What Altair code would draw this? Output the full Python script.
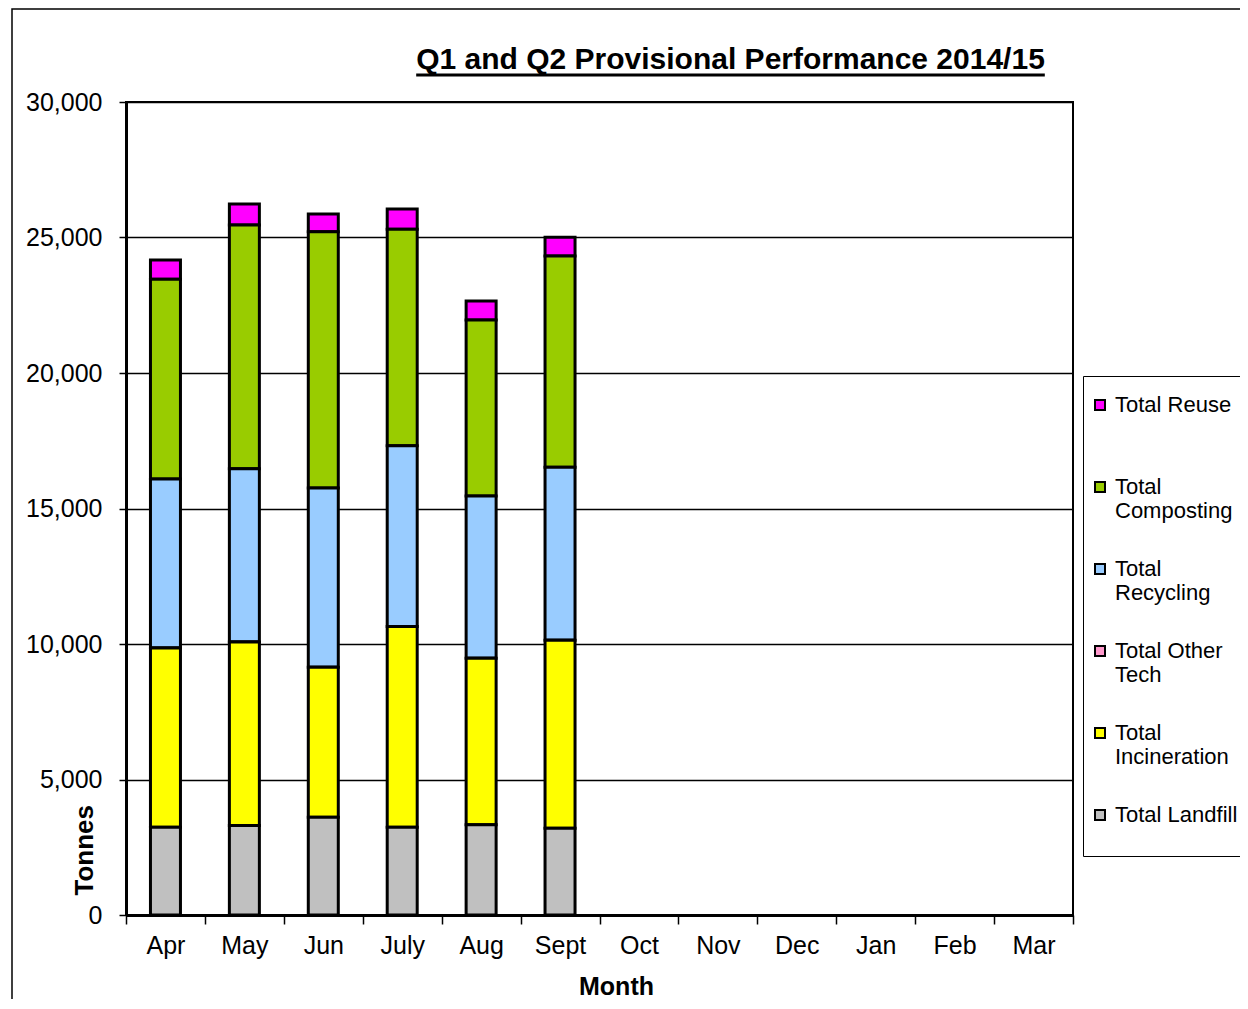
import altair as alt
import pandas as pd

# ---------------- data ----------------
months = ["Apr", "May", "Jun", "July", "Aug", "Sept",
          "Oct", "Nov", "Dec", "Jan", "Feb", "Mar"]
reported_months = ["Apr", "May", "Jun", "July", "Aug", "Sept"]

landfill = [3240, 3300, 3610, 3240, 3330, 3200]
incineration = [6610, 6770, 5530, 7410, 6140, 6940]
other_tech = [0, 0, 0, 0, 0, 0]
recycling = [6240, 6400, 6620, 6670, 5990, 6380]
composting = [7370, 8990, 9450, 7980, 6500, 7800]
reuse = [710, 780, 660, 750, 700, 690]

series = ["Total Reuse", "Total Composting", "Total Recycling",
          "Total Other Tech", "Total Incineration", "Total Landfill"]
legend_lines = [["Total Reuse", ""], ["Total", "Composting"], ["Total", "Recycling"],
                ["Total Other", "Tech"], ["Total", "Incineration"], ["Total Landfill", ""]]
colors = ["#FF00FF", "#99CC00", "#99CCFF", "#FF99CC", "#FFFF00", "#C0C0C0"]
stack_rank = [5, 4, 3, 2, 1, 0]  # 0 = bottom of stack

values_by_series = {
    "Total Reuse": reuse,
    "Total Composting": composting,
    "Total Recycling": recycling,
    "Total Other Tech": other_tech,
    "Total Incineration": incineration,
    "Total Landfill": landfill,
}

rows = []
for s, rank in zip(series, stack_rank):
    for m, v in zip(reported_months, values_by_series[s]):
        rows.append({"Month": m, "Series": s, "Tonnes": v, "rank": rank})
df = pd.DataFrame(rows)

title_text = "Q1 and Q2 Provisional Performance 2014/15"
FONT = "Liberation Sans"

# legend label expression (multi-line labels)
expr = ""
for s, lines in zip(series, legend_lines):
    expr += "datum.label === '%s' ? ['%s', '%s'] : " % (s, lines[0], lines[1])
expr += "datum.label"

W, H = 947, 813

bars = alt.Chart(df).mark_bar(size=30, stroke="black", strokeWidth=3).encode(
    x=alt.X("Month:N",
            scale=alt.Scale(domain=months, paddingInner=0, paddingOuter=0),
            axis=alt.Axis(title="Month", labelAngle=0, tickBand="extent",
                          tickSize=9, tickWidth=1.5, tickColor="black",
                          domainColor="black", domainWidth=3,
                          labelFont=FONT, labelFontSize=25, labelColor="black",
                          labelPadding=9,
                          titleFont=FONT, titleFontSize=25, titleFontWeight="bold",
                          titleColor="black", titleX=490, titleY=71,
                          titleBaseline="middle", titleAlign="center")),
    y=alt.Y("Tonnes:Q", stack="zero",
            scale=alt.Scale(domain=[0, 30000], nice=False),
            axis=alt.Axis(title="Tonnes", values=[0, 5000, 10000, 15000, 20000, 25000, 30000],
                          format=",.0f", grid=True, gridColor="black", gridWidth=1.5,
                          tickSize=7, tickWidth=1.5, tickColor="black",
                          domainColor="black", domainWidth=3,
                          labelFont=FONT, labelFontSize=25, labelColor="black",
                          labelPadding=17,
                          titleFont=FONT, titleFontSize=26, titleFontWeight="bold",
                          titleColor="black", titleAngle=270, titleAlign="left",
                          titleBaseline="middle", titleX=-42, titleY=793)),
    color=alt.Color("Series:N",
                    scale=alt.Scale(domain=series, range=colors),
                    legend=alt.Legend(title=" ", titleFontSize=8, titlePadding=4,
                                      orient="none", legendX=957, legendY=274,
                                      direction="vertical", symbolType="square",
                                      symbolSize=100, symbolStrokeColor="black",
                                      symbolStrokeWidth=2, labelFont=FONT,
                                      labelFontSize=22, labelColor="black",
                                      labelLimit=400, labelOffset=4,
                                      labelExpr=expr, rowPadding=36, padding=6,
                                      strokeColor="black", fillColor="white")),
    order=alt.Order("rank:Q", sort="ascending"),
)

one = pd.DataFrame({"k": [0]})
title_center = 604.5
title_size = 30
title_mark = alt.Chart(one).mark_text(
    font=FONT, fontSize=title_size, fontWeight="bold", color="black",
    align="center", baseline="alphabetic"
).encode(x=alt.value(title_center), y=alt.value(-33), text=alt.value(title_text))

half_w = 20.954 * title_size / 2
underline = alt.Chart(one).mark_rule(color="black", strokeWidth=3).encode(
    x=alt.value(title_center - half_w), x2=alt.value(title_center + half_w), y=alt.value(-27)
)
frame = alt.Chart(one).mark_rect(fill="transparent", stroke="black", strokeWidth=1.5).encode(
    x=alt.value(-114), x2=alt.value(1140), y=alt.value(-93), y2=alt.value(920)
)

chart = alt.layer(frame, bars, title_mark, underline).properties(
    width=W, height=H,
    background="white",
    autosize=alt.AutoSizeParams(type="none"),
    padding={"left": 118, "top": 94, "right": 167, "bottom": 84},
).configure_view(stroke="black", strokeWidth=2)

chart.save("out.html", embed_options={"renderer": "svg", "actions": False})
